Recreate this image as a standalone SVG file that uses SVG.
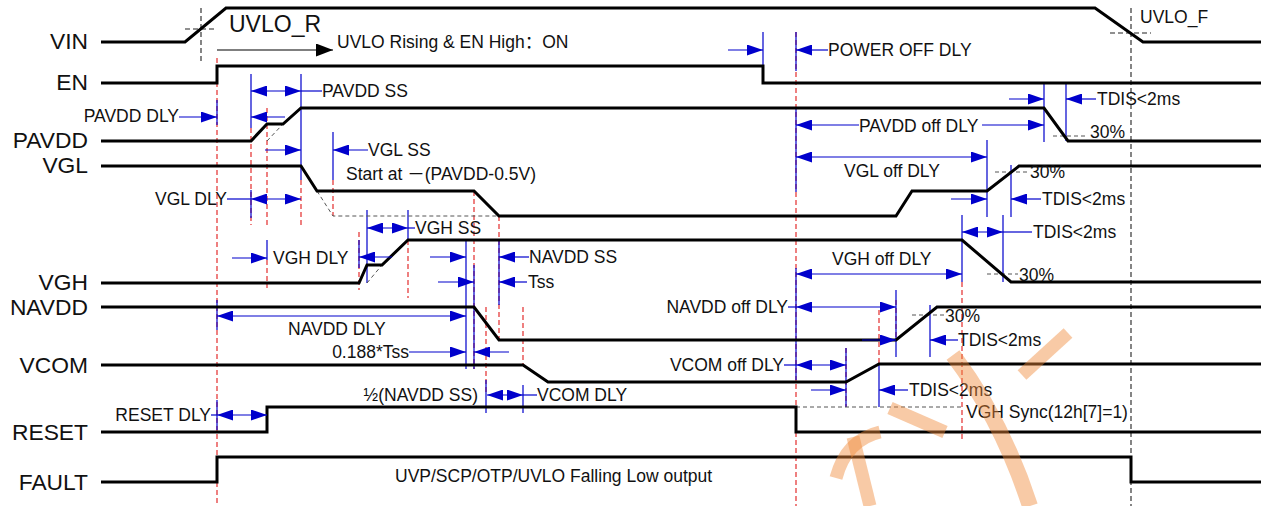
<svg xmlns="http://www.w3.org/2000/svg" width="1264" height="506" viewBox="0 0 1264 506">
<defs>
<marker id="ah" viewBox="0 0 16 11" refX="16" refY="5.5" markerWidth="16" markerHeight="11" markerUnits="userSpaceOnUse" orient="auto-start-reverse"><path d="M0,0 L16,5.5 L0,11 Z" fill="#0000cc"/></marker>
<marker id="kh" viewBox="0 0 17 13" refX="17" refY="6.5" markerWidth="17" markerHeight="13" markerUnits="userSpaceOnUse" orient="auto"><path d="M0,0 L17,6.5 L0,13 Z" fill="#000"/></marker>
<style>
.sig{fill:none;stroke:#000;stroke-width:3;stroke-linejoin:miter}
.lbl{font-family:"Liberation Sans",Arial,sans-serif;font-size:22.8px;fill:#111;text-anchor:end}
.t{font-family:"Liberation Sans","Noto Sans CJK SC",Arial,sans-serif;font-size:17.5px;fill:#111}
.e{text-anchor:end}
.b{stroke:#0000cc;stroke-width:1.2;fill:none}
.a{marker-end:url(#ah)}
.d{marker-start:url(#ah);marker-end:url(#ah)}
.r{stroke:#e01818;stroke-width:1.1;stroke-dasharray:5 3;fill:none}
.k{stroke:#222;stroke-width:1.1;stroke-dasharray:5 3;fill:none}
.g{stroke:#555;stroke-width:1;stroke-dasharray:4 3;fill:none}
</style>
</defs>
<rect width="1264" height="506" fill="#fff"/>

<g id="guides">
<path class="r" d="M217,58V506 M251,128V225 M267,108V225 M267,260V288 M301,180V225 M333,180V216 M359,232V290 M408,240V298 M474,191V369 M499,216V340 M486,307V392 M523,307V365 M796,32V506 M846,348V407 M879,310V365 M896,300V340 M962,282V440"/>
<path class="b" d="M217,100V125 M217,300V330 M217,400V430 M251,74V128 M251,190V218 M267,240V260 M301,74V180 M333,132V180 M359,240V268 M367,210V283 M408,210V240 M466,240V369 M474,265V369 M499,240V305 M486,380V413 M523,385V413 M763,32V66 M796,32V71 M796,108V192 M796,268V380 M846,348V407 M879,365V407 M896,290V357 M930,305V357 M962,215V282 M987,140V217 M1003,215V282 M1011,165V217 M1044,84V142 M1066,84V141"/>
<path class="k" d="M201,8V63 M185,29H216 M1131,8V506 M1110,33H1151"/>
<path class="g" d="M267,141L283,124 M317,191L333,216L499,216 M367,283L382,265 M796,407H962 M1053,136H1087 M995,172H1028 M987,274H1018 M912,315H944"/>
</g>

<g id="sig-VIN"><text class="lbl" x="88" y="49">VIN</text><path class="sig" d="M101,42H185L226,8H1095L1143,42H1261"/></g>
<g id="sig-EN"><text class="lbl" x="88" y="90">EN</text><path class="sig" d="M101,83H217V66H763V83H1261"/></g>
<g id="sig-PAVDD"><text class="lbl" x="88" y="148">PAVDD</text><path class="sig" d="M101,141H251L267,124H283L301,108H1044L1068,141H1261"/></g>
<g id="sig-VGL"><text class="lbl" x="88" y="173">VGL</text><path class="sig" d="M101,166H301L317,191H474L499,216H896L912,191H987L1019,166H1261"/></g>
<g id="sig-VGH"><text class="lbl" x="88" y="290">VGH</text><path class="sig" d="M101,283H359L367,265H382L408,240H962L1011,282H1261"/></g>
<g id="sig-NAVDD"><text class="lbl" x="88" y="315">NAVDD</text><path class="sig" d="M101,307H474L499,340H896L937,307H1261"/></g>
<g id="sig-VCOM"><text class="lbl" x="88" y="373">VCOM</text><path class="sig" d="M101,365H523L548,382H846L879,364H1261"/></g>
<g id="sig-RESET"><text class="lbl" x="88" y="440">RESET</text><path class="sig" d="M101,432H267V407H796V432H1261"/></g>
<g id="sig-FAULT"><text class="lbl" x="88" y="490">FAULT</text><path class="sig" d="M101,482H217V457H1131V482H1261"/></g>

<g id="connectors">
<path d="M217,50H333" stroke="#000" stroke-width="1.2" marker-end="url(#kh)"/>
<path class="b a" d="M179,117H217"/>
<path class="b d" d="M251,91H301"/><path class="b" d="M301,91H322"/>
<path class="b a" d="M285,117H251"/>
<path class="b a" d="M265,150H301"/>
<path class="b a" d="M368,150H333"/>
<path class="b" d="M227,199H251"/><path class="b d" d="M251,199H301"/>
<path class="b a" d="M232,258H267"/>
<path class="b a" d="M392,257H359"/>
<path class="b d" d="M367,228H408"/><path class="b" d="M408,228H415"/>
<path class="b a" d="M430,257H466"/>
<path class="b a" d="M529,257H499"/>
<path class="b a" d="M438,282H474"/>
<path class="b a" d="M527,282H499"/>
<path class="b d" d="M217,316H466"/>
<path class="b a" d="M409,352H466"/>
<path class="b a" d="M509,352H474"/>
<path class="b d" d="M487,395H523"/><path class="b" d="M523,395H537"/>
<path class="b a" d="M728,50H763"/>
<path class="b a" d="M828,50H796"/>
<path class="b a" d="M859,125H796"/>
<path class="b a" d="M982,125H1044"/>
<path class="b a" d="M1009,99H1044"/>
<path class="b a" d="M1096,99H1066"/>
<path class="b d" d="M796,157H987"/>
<path class="b a" d="M951,199H987"/>
<path class="b a" d="M1041,199H1011"/>
<path class="b d" d="M796,274H962"/>
<path class="b d" d="M962,232H1003"/><path class="b" d="M1003,232H1032"/>
<path class="b" d="M788,307H796"/><path class="b d" d="M796,307H896"/>
<path class="b a" d="M862,340H896"/>
<path class="b a" d="M958,340H930"/>
<path class="b" d="M784,365H796"/><path class="b d" d="M796,365H846"/>
<path class="b a" d="M811,390H846"/>
<path class="b a" d="M908,390H879"/>
<path class="b" d="M211,415H217"/><path class="b d" d="M217,415H267"/>
</g>

<g id="texts">
<text class="t" x="229" y="32" style="font-size:23px">UVLO_R</text>
<text class="t" x="337" y="48">UVLO Rising &amp; EN High：ON</text>
<text class="t" x="1140" y="23">UVLO_F</text>
<text class="t e" x="179" y="122">PAVDD DLY</text>
<text class="t" x="322" y="97">PAVDD SS</text>
<text class="t" x="368" y="156">VGL SS</text>
<text class="t" x="346" y="180">Start at －(PAVDD-0.5V)</text>
<text class="t e" x="227" y="205">VGL DLY</text>
<text class="t" x="273" y="264">VGH DLY</text>
<text class="t" x="415" y="234">VGH SS</text>
<text class="t" x="529" y="263">NAVDD SS</text>
<text class="t" x="528" y="288">Tss</text>
<text class="t" x="288" y="335">NAVDD DLY</text>
<text class="t e" x="409" y="358">0.188*Tss</text>
<text class="t e" x="478" y="401">½(NAVDD SS)</text>
<text class="t" x="537" y="401">VCOM DLY</text>
<text class="t e" x="211" y="421">RESET DLY</text>
<text class="t" x="395" y="482">UVP/SCP/OTP/UVLO Falling Low output</text>
<text class="t" x="828" y="56">POWER OFF DLY</text>
<text class="t" x="859" y="132">PAVDD off DLY</text>
<text class="t" x="1097" y="105">TDIS&lt;2ms</text>
<text class="t" x="1090" y="138">30%</text>
<text class="t" x="844" y="177">VGL off DLY</text>
<text class="t" x="1030" y="178">30%</text>
<text class="t" x="1042" y="205">TDIS&lt;2ms</text>
<text class="t" x="1033" y="238">TDIS&lt;2ms</text>
<text class="t" x="832" y="265">VGH off DLY</text>
<text class="t" x="1019" y="281">30%</text>
<text class="t e" x="788" y="313">NAVDD off DLY</text>
<text class="t" x="945" y="322">30%</text>
<text class="t" x="958" y="346">TDIS&lt;2ms</text>
<text class="t e" x="784" y="371">VCOM off DLY</text>
<text class="t" x="909" y="396">TDIS&lt;2ms</text>
<text class="t" x="966" y="418">VGH Sync(12h[7]=1)</text>
</g>

<g id="watermark" fill="none" stroke="#f08a3a" stroke-opacity="0.45">
<path d="M1068,333L1022,375" stroke-width="13"/>
<path d="M953,355Q1002,420 1030,506" stroke-width="16"/>
<path d="M836,478Q846,440 880,432" stroke-width="13"/>
<path d="M853,437L870,506" stroke-width="13"/>
<path d="M890,408L945,432" stroke-width="13"/>
</g>
</svg>
